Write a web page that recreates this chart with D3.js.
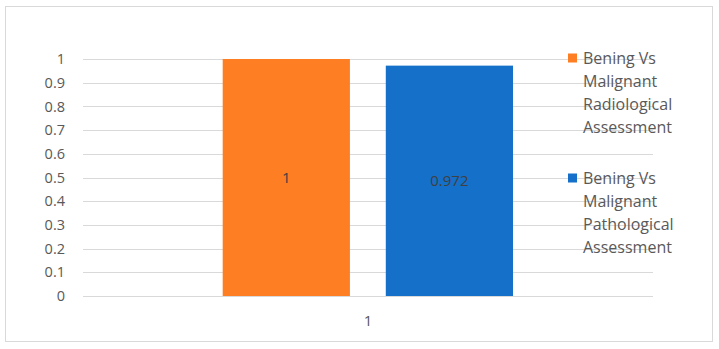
<!DOCTYPE html>
<html>
<head>
<meta charset="utf-8">
<script src="https://cdn.jsdelivr.net/npm/d3@7"></script>
<style>
  body { margin: 0; background: #fff; }
  text { font-family: "Open Sans", "Noto Sans", sans-serif; fill: #595959; }
</style>
</head>
<body>
<div id="chart"></div>
<script>
// Data
const categories = ["1"];
const seriesNames = [
  ["Bening Vs", "Malignant", "Radiological", "Assessment"],
  ["Bening Vs", "Malignant", "Pathological", "Assessment"]
];
const seriesValues = [1, 0.972];
const seriesLabels = ["1", "0.972"];
const yTicks = [0, 0.1, 0.2, 0.3, 0.4, 0.5, 0.6, 0.7, 0.8, 0.9, 1];
const colors = ["#fd7e23", "#1570c9"];

const W = 719, H = 349;
const margin = {top: 59, right: 66, bottom: 53, left: 83},
      width = 653 - margin.left,
      height = 296 - margin.top;

const root = d3.select("#chart")
  .append("svg")
  .attr("width", W)
  .attr("height", H);

// outer frame
root.append("rect")
  .attr("x", 5.5).attr("y", 6.5)
  .attr("width", 707).attr("height", 335)
  .attr("fill", "#fff")
  .attr("stroke", "#d9d9d9");

const svg = root.append("g")
  .attr("transform", `translate(${margin.left},${margin.top})`);

// scales
const x0 = d3.scaleBand()
  .domain(categories)
  .range([0, width]);

const x1 = d3.scaleBand()
  .domain(d3.range(seriesValues.length))
  .range([139.7, 430])
  .paddingInner(0.22);

const y = d3.scaleLinear()
  .domain([0, 1])
  .range([height, 0]);

// gridlines
svg.append("g")
  .selectAll("line")
  .data(yTicks)
  .enter().append("line")
  .attr("x1", 0).attr("x2", width)
  .attr("y1", d => Math.round(y(d)) + 0.5)
  .attr("y2", d => Math.round(y(d)) + 0.5)
  .attr("stroke", "#d9d9d9")
  .attr("stroke-width", 1);

// y axis labels
const yAxis = svg.append("g")
  .call(d3.axisLeft(y).tickValues(yTicks).tickSize(0).tickPadding(18).tickFormat(d => String(d)));
yAxis.select(".domain").remove();
yAxis.selectAll("text")
  .style("font-size", "14.5px")
  .style("fill", "#595959")
  .style("font-family", "'Open Sans', sans-serif");

// bars
svg.selectAll(".bar")
  .data(seriesValues)
  .enter().append("rect")
  .attr("class", "bar")
  .attr("x", (d, i) => x1(i))
  .attr("y", d => y(d))
  .attr("width", x1.bandwidth())
  .attr("height", d => y(0) - y(d))
  .attr("fill", (d, i) => colors[i]);

// value labels
svg.selectAll(".val")
  .data(seriesValues)
  .enter().append("text")
  .attr("class", "val")
  .attr("x", (d, i) => x1(i) + x1.bandwidth() / 2)
  .attr("y", d => (y(d) + y(0)) / 2)
  .attr("dy", "0.35em")
  .attr("text-anchor", "middle")
  .style("font-size", "15px")
  .style("fill", "#404040")
  .text((d, i) => seriesLabels[i]);

// x axis label
svg.selectAll(".xcat")
  .data(categories)
  .enter().append("text")
  .attr("class", "xcat")
  .attr("x", 285)
  .attr("y", height + 25)
  .attr("dy", "0.35em")
  .attr("text-anchor", "middle")
  .style("font-size", "15px")
  .text(d => d);

// legend
const legend = root.selectAll(".legend")
  .data(seriesNames)
  .enter().append("g")
  .attr("class", "legend")
  .attr("transform", (d, i) => `translate(568,${58 + i * 120})`);

legend.append("rect")
  .attr("x", 0).attr("y", -4.5)
  .attr("width", 9).attr("height", 9)
  .attr("fill", (d, i) => colors[i]);

legend.append("text")
  .style("font-size", "16px")
  .selectAll("tspan")
  .data(d => d)
  .enter().append("tspan")
  .attr("x", 15)
  .attr("y", (d, i) => i * 23)
  .attr("dy", "0.35em")
  .text(d => d);
</script>
</body>
</html>
